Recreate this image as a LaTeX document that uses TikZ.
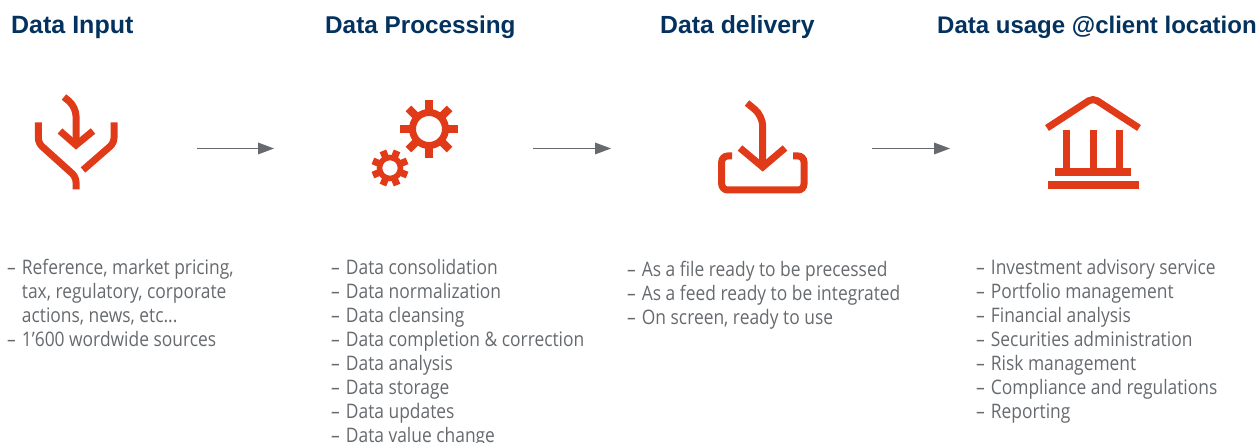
\documentclass[tikz,border=0pt]{standalone}
\usepackage{fontspec}
\setmainfont{Liberation Sans}
\newfontfamily\bodyfont[FakeStretch=0.87]{Open Sans}
\newcommand{\dd}{–\kern1.5pt\ }
\newcommand{\ddp}{\phantom{–}\kern1.5pt\ }
\definecolor{navy}{HTML}{03325F}
\definecolor{icored}{HTML}{E03A18}
\definecolor{bodygrey}{HTML}{666A6E}
\definecolor{arrowgrey}{HTML}{66696D}
\begin{document}
\begin{tikzpicture}[x=1pt,y=-1pt,
  title/.style={font=\fontsize{24.3}{28}\selectfont\bfseries,text=navy,inner sep=0pt,anchor=base west},
  bodytext/.style={font=\bodyfont\fontsize{20}{24}\selectfont,text=bodygrey,inner sep=0pt,anchor=north west,align=left,text depth=0pt},
  ico/.style={draw=icored,line width=7pt,line join=miter},
  flow/.style={draw=arrowgrey,line width=1.2pt}]
\useasboundingbox (0,0) rectangle (1259,443);
\node[title,font=\fontsize{25}{28}\selectfont\bfseries] (t1) at (11,33.8) {Data Input};
\node[title] (t2) at (325,33.8) {Data Processing};
\node[title,font=\fontsize{24.8}{28}\selectfont\bfseries] (t3) at (660,33.8) {Data delivery};
\node[title,font=\fontsize{24}{28}\selectfont\bfseries] (t4) at (937,33.8) {Data usage @client location};
% icon 1
\draw[ico,rounded corners=5pt] (38.3,122.5) -- (38.3,143) -- (76,177) -- (76,189.5);
\draw[ico,rounded corners=5pt] (114,122.5) -- (114,143) -- (83,170);
\draw[ico,rounded corners=9pt] (64,97) -- (76,107) -- (76,146);
\draw[ico] (60,131) -- (76,145) -- (93,131);
% gears
\foreach \a in {0,45,...,315}{
  \fill[icored,rotate around={\a:(429,129)}] (425,100) rectangle (433,115);
}
\draw[icored,line width=7pt] (429,129) circle (16.5);
\foreach \a in {22.5,67.5,...,337.5}{
  \fill[icored,rotate around={\a:(390,168)}] (386.5,149.5) rectangle (393.5,160);
}
\draw[icored,line width=5.5pt] (390,168) circle (10.5);
% tray
\draw[ico,rounded corners=6pt] (732,156) -- (721.7,156) -- (721.7,190) -- (804,190) -- (804,156) -- (793,156);
\draw[ico,rounded corners=10pt] (747,103) -- (762.7,116) -- (762.7,165);
\draw[ico] (740,148) -- (762.7,167) -- (785,148);
% bank
\draw[ico,rounded corners=5pt] (1047,128) -- (1093,98) -- (1139,128);
\draw[ico] (1066.7,130) -- (1066.7,170);
\draw[ico] (1093,130) -- (1093,170);
\draw[ico] (1119.3,130) -- (1119.3,170);
\fill[icored] (1055,168) rectangle (1131,176);
\fill[icored] (1048,181) rectangle (1139,189);
% arrows
\coordinate (a1s) at (197,148.5); \coordinate (a1e) at (274,148.5);
\coordinate (a2s) at (533,148.5); \coordinate (a2e) at (611,148.5);
\coordinate (a3s) at (872,148.5); \coordinate (a3e) at (950,148.5);
\foreach \s/\e in {a1s/a1e,a2s/a2e,a3s/a3e}{
  \draw[flow] (\s) -- ([xshift=-10pt]\e);
  \fill[arrowgrey] (\e) -- ++(-16,-6) -- ++(0,12) -- cycle;
}
\node[bodytext] (b1) at (7,259) {\dd Reference, market pricing,\\\ddp tax, regulatory, corporate\\\ddp actions, news, etc...\\\dd 1’600 wordwide sources};
\node[bodytext] (b2) at (331,259) {\dd Data consolidation\\\dd Data normalization\\\dd Data cleansing\\\dd Data completion \& correction\\\dd Data analysis\\\dd Data storage\\\dd Data updates\\\dd Data value change};
\node[bodytext] (b3) at (627,261) {\dd As a file ready to be precessed\\\dd As a feed ready to be integrated\\\dd On screen, ready to use};
\node[bodytext] (b4) at (976,259) {\dd Investment advisory service\\\dd Portfolio management\\\dd Financial analysis\\\dd Securities administration\\\dd Risk management\\\dd Compliance and regulations\\\dd Reporting};
\end{tikzpicture}
\end{document}
